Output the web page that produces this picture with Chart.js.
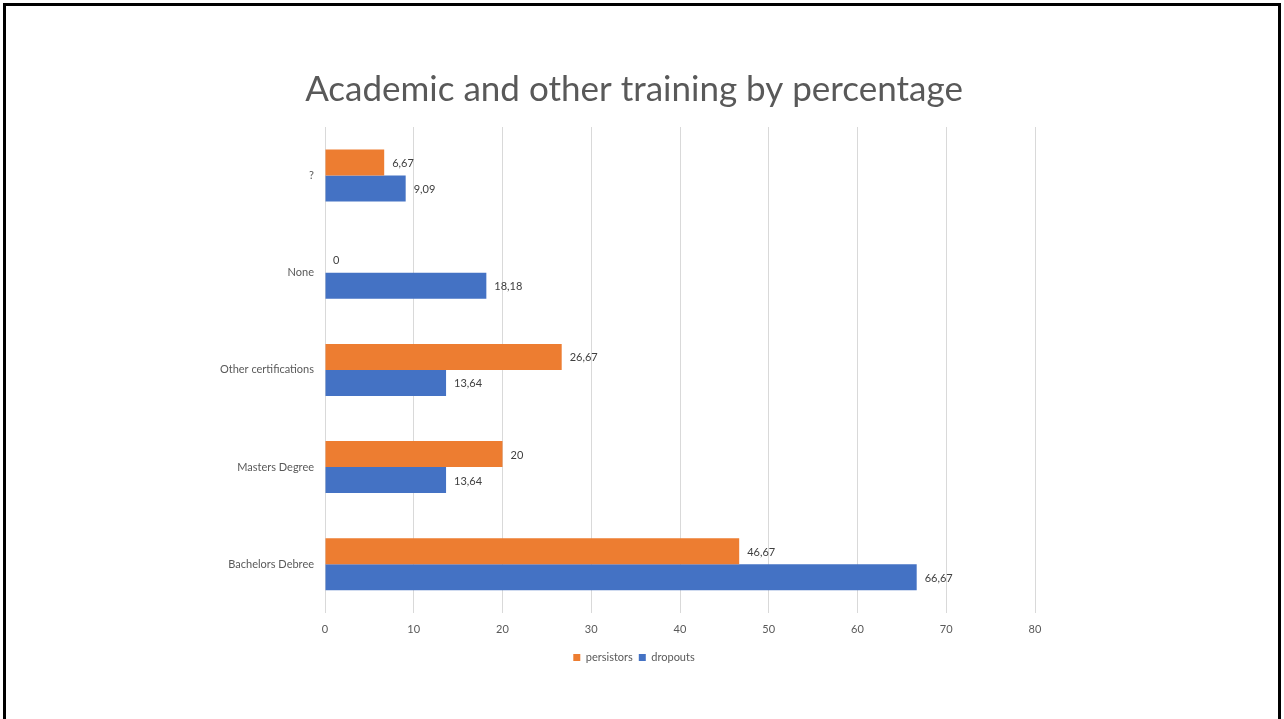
<!DOCTYPE html>
<html>
<head>
<meta charset="utf-8">
<script src="https://cdn.jsdelivr.net/npm/chart.js"></script>
<style>
 html,body{margin:0;padding:0;background:#fff;overflow:hidden}
 #wrap{position:relative;width:1284px;height:719px}
 #frame{position:absolute;left:3px;top:3px;width:1272px;height:740px;border:3px solid #000;border-bottom:none;pointer-events:none}
</style>
</head>
<body>
<div id="wrap">
 <canvas id="chart"></canvas>
 <div id="frame"></div>
</div>
<script>
const kategori=["?","None","Other certifications","Masters Degree","Bachelors Debree"];
const persistors=[6.67,0,26.67,20,46.67];
const dropouts=[9.09,18.18,13.64,13.64,66.67];
const xTicks=[0,10,20,30,40,50,60,70,80];

const fontFam="Lato, 'Open Sans', sans-serif";

// label angka di ujung batang + nama kategori di kiri
const labelPlugin={
 id:"barLabels",
 afterDatasetsDraw(chart){
  const ctx=chart.ctx;
  ctx.save();
  ctx.font="11px "+fontFam;
  ctx.textBaseline="middle";
  ctx.fillStyle="#404040";
  ctx.textAlign="left";
  chart.data.datasets.forEach((ds,di)=>{
   chart.getDatasetMeta(di).data.forEach((bar,i)=>{
    let t=String(ds.data[i]).replace(".",",");
    ctx.fillText(t,bar.x+8,bar.y+1);
   });
  });
  const y=chart.scales.y;
  ctx.fillStyle="#595959";
  ctx.textAlign="right";
  chart.data.labels.forEach((n,i)=>{
   ctx.fillText(n,chart.chartArea.left-11,y.getPixelForValue(i));
  });
  ctx.restore();
 }
};

new Chart(document.getElementById("chart"),{
 type:"bar",
 data:{
  labels:kategori,
  datasets:[
   {label:"persistors",data:persistors,backgroundColor:"#ED7D31"},
   {label:"dropouts",data:dropouts,backgroundColor:"#4472C4"}
  ]
 },
 options:{
  indexAxis:"y",
  responsive:true,
  maintainAspectRatio:false,
  animation:false,
  categoryPercentage:0.535,
  barPercentage:1,
  layout:{padding:{top:0,bottom:46,left:233,right:249}},
  scales:{
   x:{
    min:0,max:80,
    afterBuildTicks(s){s.ticks=xTicks.map(v=>({value:v}));},
    grid:{color:"#d9d9d9",drawTicks:false},
    border:{display:false},
    ticks:{padding:10,color:"#595959",font:{size:11,family:fontFam}}
   },
   y:{
    afterFit(s){s.width=92;},
    grid:{display:false,drawTicks:false},
    border:{display:false},
    ticks:{display:false}
   }
  },
  plugins:{
   title:{
    display:true,
    text:"Academic and other training by percentage",
    color:"#595959",
    font:{size:35,family:fontFam,weight:"normal"},
    padding:{top:69,bottom:16}
   },
   legend:{
    position:"bottom",
    labels:{boxWidth:7,boxHeight:7,color:"#595959",font:{size:11,family:fontFam},padding:6}
   },
   tooltip:{enabled:false}
  }
 },
 plugins:[labelPlugin]
});
</script>
</body>
</html>
